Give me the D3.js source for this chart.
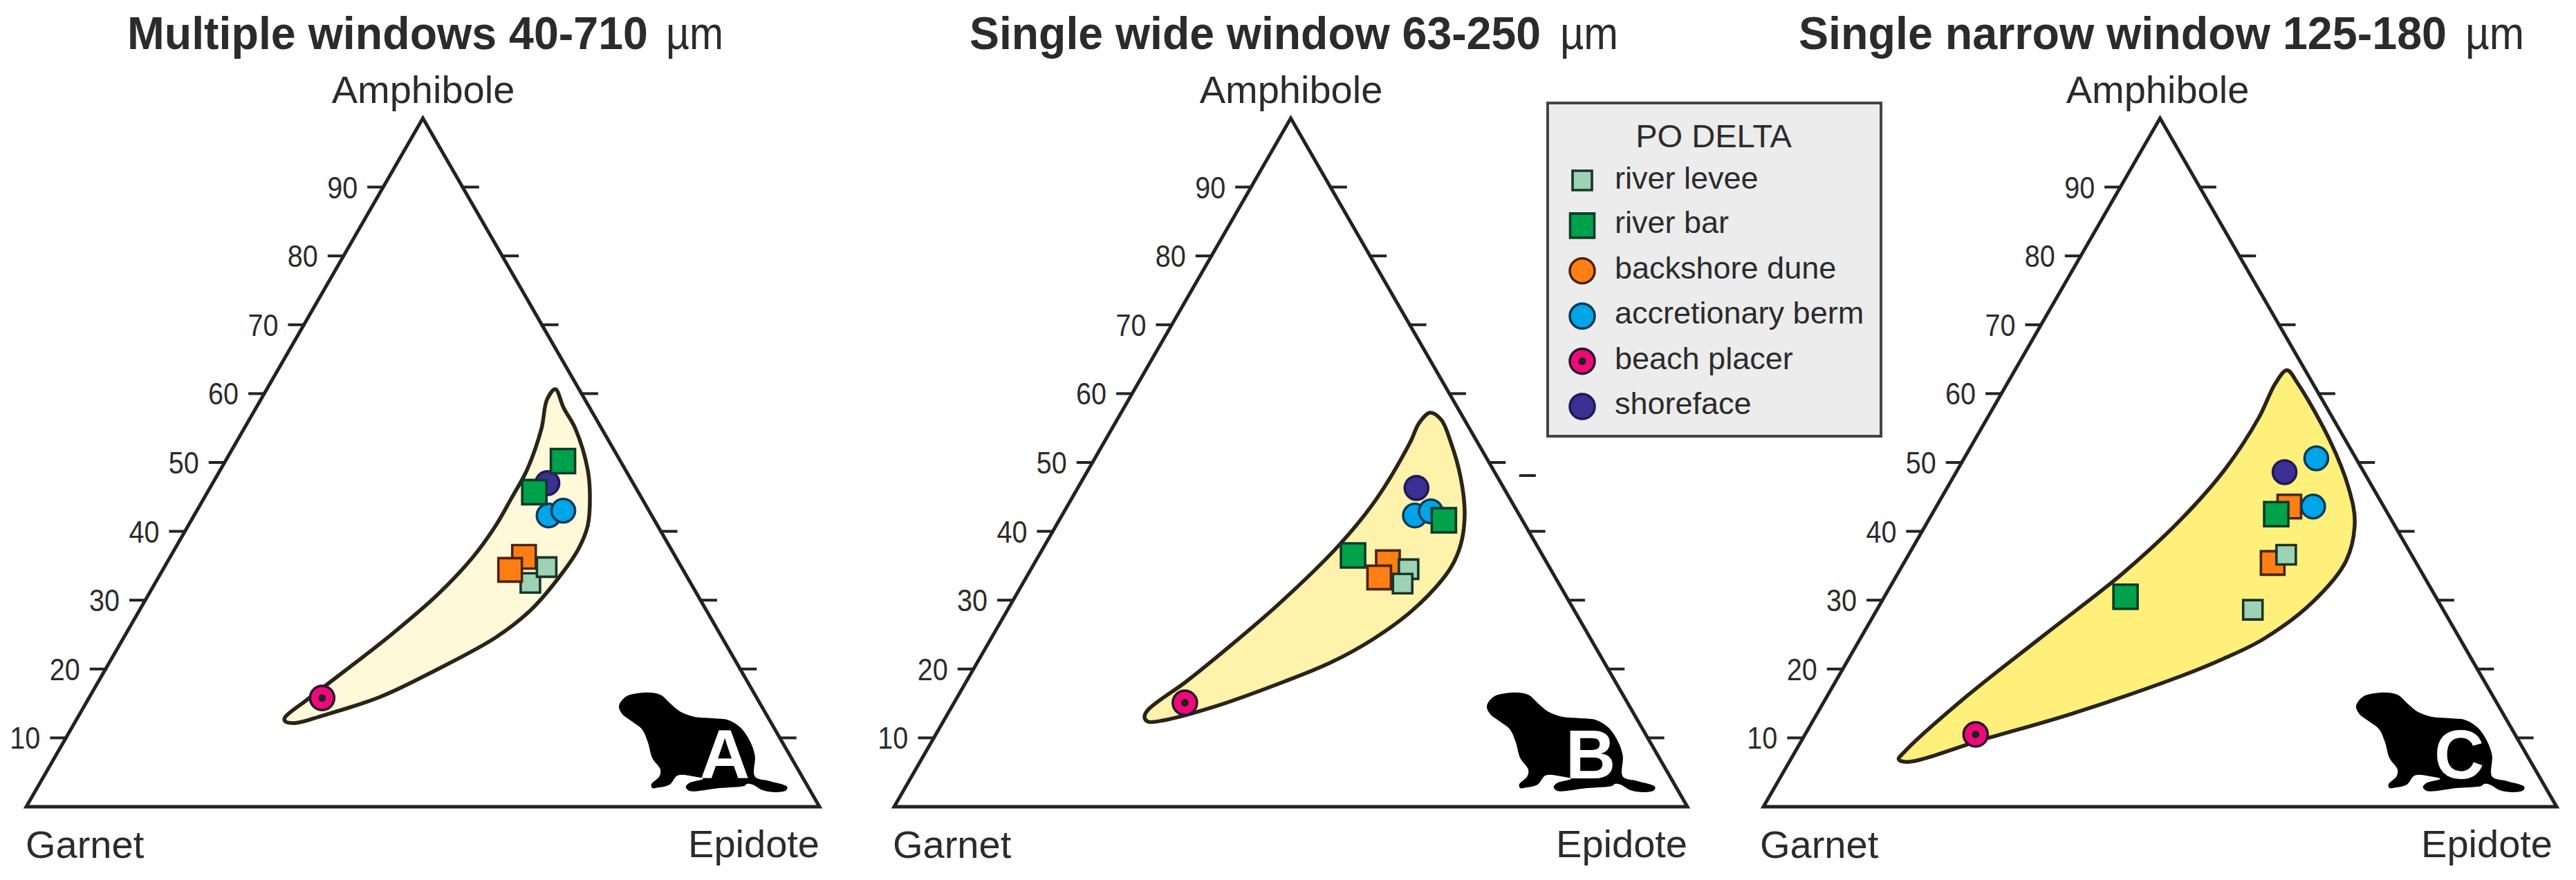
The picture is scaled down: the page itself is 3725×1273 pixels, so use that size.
<!DOCTYPE html>
<html><head><meta charset="utf-8">
<script src="https://cdn.jsdelivr.net/npm/d3@7"></script>
<style>
html,body{margin:0;padding:0;background:#fff}
svg{display:block}
text{font-family:"Liberation Sans",Arial,sans-serif;fill:#2b2b2b}
</style></head><body>
<svg id="c" width="3725" height="1273"></svg>
<script>
// ---------- data ----------
const legendTitle = "PO DELTA";
const categories = ["river levee","river bar","backshore dune","accretionary berm","beach placer","shoreface"];
const apexLabel = "Amphibole", leftLabel = "Garnet", rightLabel = "Epidote";
const tickValues = [10,20,30,40,50,60,70,80,90];
const panelIds = ["A","B","C"];
const titles = ["Multiple windows 40-710","Single wide window 63-250","Single narrow window 125-180"];
const unit = "\u00b5m";
// right-edge ticks drawn per panel (panel A has no 50 tick)
const rightTicksA = [10,20,30,40,60,70,80,90];
const rightTicksB = [10,20,30,40,50,60,70,80,90];
const rightTicksC = [10,20,30,40,50,60,70,80,90];

// samples: [category, amphibole %, epidote %]
const samplesA = [
 ["backshore dune",36.3,44.6],["river levee",32.5,47.3],["backshore dune",34.4,43.8],
 ["river levee",34.8,48.2],
 ["accretionary berm",42.3,44.7],["accretionary berm",43.0,46.2],
 ["shoreface",47.0,42.2],
 ["river bar",50.2,42.56],["river bar",45.7,41.2],
 ["beach placer",15.8,29.4]];
const samplesB = [
 ["backshore dune",35.5,44.5],
 ["river levee",34.5,47.6],
 ["backshore dune",33.3,44.5],
 ["river levee",32.4,47.9],
 ["accretionary berm",42.3,44.5],["accretionary berm",42.9,46.2],
 ["shoreface",46.3,42.7],
 ["river bar",41.6,48.5],["river bar",36.5,39.6],
 ["beach placer",15.1,29.1]];
const samplesC = [
 ["backshore dune",43.6,44.5],["backshore dune",35.4,46.5],
 ["river levee",36.6,47.6],["river levee",28.6,47.4],
 ["accretionary berm",50.6,44.4],["accretionary berm",43.6,47.5],
 ["shoreface",48.6,41.4],
 ["river bar",42.5,43.4],["river bar",30.5,30.4],
 ["beach placer",10.5,21.5]];

// compositional field outlines: [amphibole %, epidote %]
const fieldA = [[60.64,36.38],[57.93,38.78],[54.92,41.76],[48.90,46.34],[44.88,48.62],[40.86,50.36],[37.55,50.89],[33.53,50.54],[28.51,49.30],[24.60,46.90],[19.98,41.88],[15.96,36.66],[13.25,30.78],[12.15,27.84],[12.45,26.38],[12.95,26.13],[15.46,27.58],[18.07,29.24],[25.10,33.57],[30.82,36.46],[36.14,38.16],[40.86,38.77],[44.88,38.76],[48.90,38.67],[54.92,37.49],[59.14,36.08]];
const fieldB = [[57.23,38.95],[56.22,40.85],[52.91,43.73],[47.89,47.46],[42.87,50.49],[38.76,52.20],[35.64,52.80],[33.03,52.62],[28.31,50.97],[24.30,48.18],[20.98,44.61],[18.17,40.09],[14.46,32.96],[12.55,27.73],[12.35,25.83],[12.95,25.09],[13.96,24.93],[18.07,27.67],[21.29,29.55],[29.42,33.76],[37.95,37.08],[44.78,38.46],[52.91,38.59],[55.72,38.31]];
const fieldC = [[63.4,34.3],[61.5,36.6],[53.1,44.9],[46.2,50.7],[41.3,53.9],[35.7,55.6],[29.8,54.4],[24.4,50.9],[21.49,47.23],[19.0,43.2],[13.5,32.1],[9.8,22.9],[6.5,14.9],[6.9,13.6],[8.0,13.8],[15.5,17.3],[24.9,22.9],[33.8,28.3],[41.8,31.8],[49.1,33.7],[56.5,34.2],[61.5,33.8]];

// decorative silhouette outline
const beaver = [[50,170],[80,140],[170,125],[225,135],[270,175],[310,208],[370,230],[450,237],[520,245],[575,280],[615,340],[635,400],[635,490],[700,510],[775,535],[770,550],[730,558],[670,550],[625,525],[600,522],[590,530],[480,540],[350,552],[335,535],[350,518],[410,500],[370,490],[300,485],[265,525],[215,538],[190,540],[185,525],[220,490],[225,460],[190,410],[170,340],[145,285],[100,250],[60,220],[45,190]];

// ---------- styles & layout ----------
const style = {
 "river levee":{shape:"s",side:28,fill:"#9dd3b4",stroke:"#17352a"},
 "river bar":{shape:"s",side:35,fill:"#00a14b",stroke:"#0c3b2a"},
 "backshore dune":{shape:"s",side:34,fill:"#ff7f14",stroke:"#4a2410"},
 "accretionary berm":{shape:"c",r:17,fill:"#00a5e8",stroke:"#0b3a5c"},
 "beach placer":{shape:"c",r:17.5,fill:"#ee0a78",stroke:"#2a1530"},
 "shoreface":{shape:"c",r:17,fill:"#3d2f93",stroke:"#201a58"}
};
const layout = [
 {x0:38,  titleX:184, titleW:753, unitX:963, unitW:83, apexX:612,  garnetX:37,   epidoteX:1185, letterX:1048, dx:0,   samples:samplesA, field:fieldA, fill:"#fff9da", rt:rightTicksA},
 {x0:1293,titleX:1402,titleW:826, unitX:2256,unitW:84, apexX:1867, garnetX:1291, epidoteX:2440, letterX:2300, dx:1255,samples:samplesB, field:fieldB, fill:"#fff2aa", rt:rightTicksB},
 {x0:2550,titleX:2601,titleW:937, unitX:3565,unitW:85, apexX:3120, garnetX:2545, epidoteX:3691, letterX:3556, dx:2512,samples:samplesC, field:fieldC, fill:"#fff07c", rt:rightTicksC}
];
const W = 1147;
const svg = d3.select("#c");
const y = d3.scaleLinear().domain([0,100]).range([1167,171]);
const INK = "#222";

function symbolPath(st){
  return st.shape==="s"
    ? d3.symbol(d3.symbolSquare, st.side*st.side)()
    : d3.symbol(d3.symbolCircle, Math.PI*st.r*st.r)();
}
function drawMarker(g, st, px, py, shapeOverride){
  const s = shapeOverride ? Object.assign({},st,shapeOverride) : st;
  g.append("path").attr("d",symbolPath(s)).attr("transform",`translate(${px},${py})`)
    .attr("fill",s.fill).attr("stroke",s.stroke).attr("stroke-width",3.6);
}

layout.forEach((p,i)=>{
  const g = svg.append("g").attr("class","panel-"+panelIds[i]);
  const x = d3.scaleLinear().domain([0,100]).range([p.x0,p.x0+W]);
  // ternary -> screen
  const tx = (a,e)=>x(e+a/2), ty = a=>y(a);

  // title
  g.append("text").attr("x",p.titleX).attr("y",71).attr("font-size",66).attr("font-weight",700)
    .attr("textLength",p.titleW).attr("lengthAdjust","spacingAndGlyphs").text(titles[i]);
  g.append("text").attr("x",p.unitX).attr("y",71).attr("font-size",66)
    .attr("textLength",p.unitW).attr("lengthAdjust","spacingAndGlyphs").text(unit);

  // field
  const line = d3.line().x(d=>tx(d[0],d[1])).y(d=>ty(d[0])).curve(d3.curveCatmullRomClosed.alpha(0.5));
  g.append("path").attr("d",line(p.field)).attr("fill",p.fill).attr("stroke","#2a2318").attr("stroke-width",5.5).attr("stroke-linejoin","round");

  // triangle
  const corners = [[0,0],[0,100],[100,0]];
  g.append("path").attr("d",d3.line().x(d=>tx(d[0],d[1])).y(d=>ty(d[0])).curve(d3.curveLinearClosed)(corners))
    .attr("fill","none").attr("stroke",INK).attr("stroke-width",5).attr("stroke-linejoin","miter");

  // ticks
  tickValues.forEach(v=>{
    const lx = tx(v,0), yy = ty(v);
    g.append("line").attr("x1",lx-23).attr("x2",lx+2).attr("y1",yy).attr("y2",yy).attr("stroke",INK).attr("stroke-width",4);
    g.append("text").attr("x",lx-81).attr("y",yy+16).attr("font-size",44)
      .attr("textLength",44).attr("lengthAdjust","spacingAndGlyphs").text(v);
  });
  p.rt.forEach(v=>{
    const rx = tx(v,100-v), yy = ty(v);
    g.append("line").attr("x1",rx-2).attr("x2",rx+24).attr("y1",yy).attr("y2",yy).attr("stroke",INK).attr("stroke-width",4);
  });

  // corner labels
  g.append("text").attr("x",p.apexX).attr("y",149).attr("text-anchor","middle").attr("font-size",56).text(apexLabel);
  g.append("text").attr("x",p.garnetX).attr("y",1241).attr("font-size",56).text(leftLabel);
  g.append("text").attr("x",p.epidoteX).attr("y",1240).attr("text-anchor","end").attr("font-size",56).text(rightLabel);

  // silhouette & letter
  const sil = d3.line().x(d=>880+p.dx+d[0]/3).y(d=>960+d[1]/3).curve(d3.curveCatmullRomClosed.alpha(0.5));
  g.append("path").attr("d",sil(beaver)).attr("fill","#000");
  g.append("text").attr("x",p.letterX).attr("y",1126).attr("text-anchor","middle").attr("font-size",100)
    .attr("font-weight",700).style("fill","#fff").text(panelIds[i]);

  // samples
  p.samples.forEach(([cat,a,e])=>{
    const px=tx(a,e), py=ty(a);
    drawMarker(g,style[cat],px,py);
    if(cat==="beach placer") g.append("circle").attr("cx",px).attr("cy",py).attr("r",5.5).attr("fill","#222");
  });
});

// stray tick in panel B
{
  const xB = d3.scaleLinear().domain([0,100]).range([layout[1].x0,layout[1].x0+W]);
  const strayA = 48.1, strayP = 78.8;
  svg.append("line").attr("x1",xB(strayP)).attr("x2",xB(strayP)+24).attr("y1",y(strayA)).attr("y2",y(strayA))
    .attr("stroke",INK).attr("stroke-width",4);
}

// legend
const lg = svg.append("g").attr("class","legend");
lg.append("rect").attr("x",2238).attr("y",149).attr("width",482).attr("height",482)
  .attr("fill","#ececec").attr("stroke","#444").attr("stroke-width",4);
lg.append("text").attr("x",2478).attr("y",213).attr("text-anchor","middle").attr("font-size",47).text(legendTitle);
const legendY = d3.scalePoint().domain(categories).range([261,588]);
const legendOverride = {"backshore dune":{shape:"c",r:18}, "accretionary berm":{r:18}, "beach placer":{r:18}, "shoreface":{r:18}};
categories.forEach(c=>{
  const yy = legendY(c);
  drawMarker(lg,style[c],2288,yy,legendOverride[c]);
  if(c==="beach placer") lg.append("circle").attr("cx",2288).attr("cy",yy).attr("r",5.5).attr("fill","#222");
  lg.append("text").attr("x",2335).attr("y",yy+(c==="river levee"?12:11)).attr("font-size",45).text(c);
});
</script>
</body></html>
